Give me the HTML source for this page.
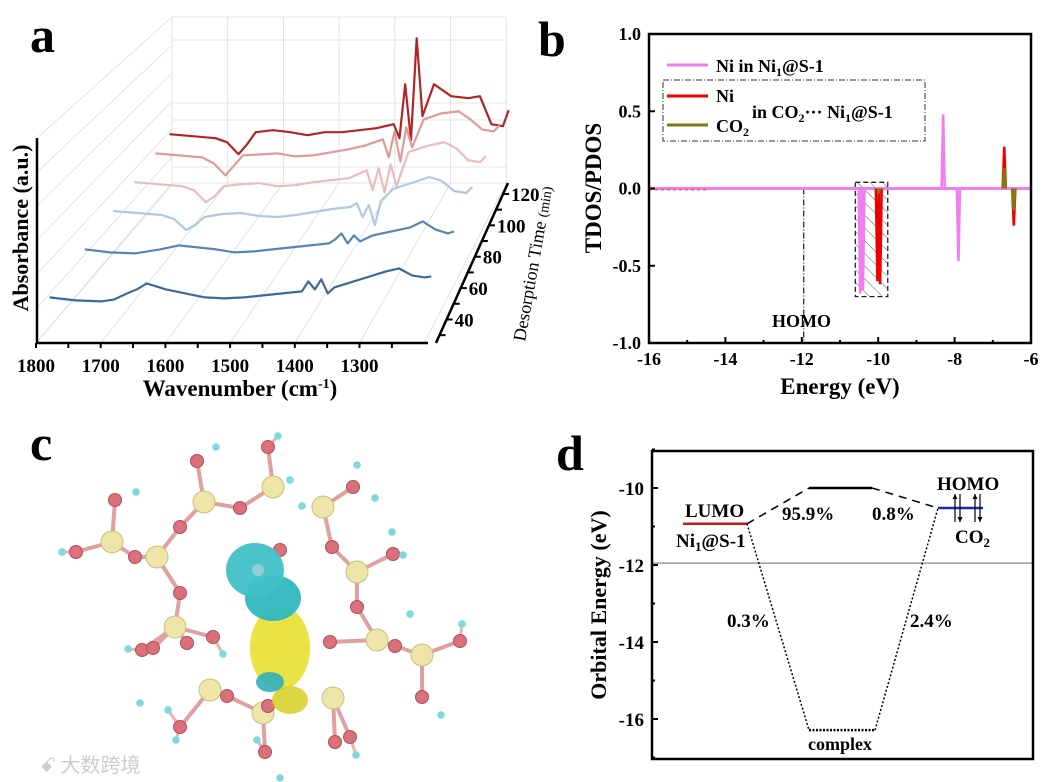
<!DOCTYPE html>
<html><head><meta charset="utf-8"><style>
body{margin:0;background:#fff}
svg{display:block;font-family:"Liberation Serif","Noto Serif CJK SC",serif;font-weight:bold}
</style></head><body>
<svg id="fig" width="1044" height="782" viewBox="0 0 1044 782" xmlns="http://www.w3.org/2000/svg">
<defs>
<pattern id="hatch" width="9" height="9" patternUnits="userSpaceOnUse" patternTransform="rotate(-45)"><line x1="0" y1="0" x2="0" y2="9" stroke="#333" stroke-width="0.8"/></pattern>
</defs>
<g id="pa">
<text x="30" y="52" font-size="50">a</text>
<g id="agrid" stroke="#ddd" stroke-width="0.8" fill="none"></g>
<g id="aseries"></g>
<g id="aaxes"></g>
<text transform="translate(28,228) rotate(-90)" text-anchor="middle" font-size="22">Absorbance (a.u.)</text>
<text x="240" y="396" text-anchor="middle" font-size="23">Wavenumber (cm<tspan dy="-8" font-size="14">-1</tspan><tspan dy="8">)</tspan></text>
<text transform="translate(525,342) rotate(-80)" font-size="18" font-weight="normal">Desorption Time <tspan font-size="14">(min)</tspan></text>
</g>
<g id="pb">
<text x="538" y="56" font-size="50">b</text>
<g id="bplot"></g>
<text transform="translate(601,188) rotate(-90)" text-anchor="middle" font-size="23">TDOS/PDOS</text>
<text x="840" y="394" text-anchor="middle" font-size="23">Energy (eV)</text>
<g>
<line x1="667" y1="65" x2="708" y2="65" stroke="#f07ef0" stroke-width="3"/>
<text x="716" y="72" font-size="18">Ni in Ni<tspan font-size="12" dy="4">1</tspan><tspan dy="-4">@S-1</tspan></text>
<rect x="663" y="80" width="262" height="61" fill="none" stroke="#333" stroke-dasharray="6,2,1,2"/>
<line x1="667" y1="96" x2="708" y2="96" stroke="#e00" stroke-width="3"/>
<text x="716" y="102" font-size="18">Ni</text>
<line x1="667" y1="125" x2="708" y2="125" stroke="#807a10" stroke-width="3"/>
<text x="716" y="132" font-size="18">CO<tspan font-size="12" dy="4">2</tspan></text>
<text x="752" y="118" font-size="18">in CO<tspan font-size="12" dy="4">2</tspan><tspan dy="-4">··· Ni</tspan><tspan font-size="12" dy="4">1</tspan><tspan dy="-4">@S-1</tspan></text>
</g>
<text x="772" y="327" font-size="18">HOMO</text>
</g>
<g id="pc">
<text x="30" y="460" font-size="50">c</text>
<g id="mol"></g>
<text x="40" y="772" font-size="20" fill="#ccc" font-weight="normal" font-family="'Noto Sans CJK SC',sans-serif">ꗃ 大数跨境</text>
</g>
<g id="pd">
<text x="556" y="470" font-size="50">d</text>
<g id="dplot"></g>
<text transform="translate(606,605) rotate(-90)" text-anchor="middle" font-size="22">Orbital Energy (eV)</text>
</g>
</svg>
<script>
// ---------- Panel a data ----------
const waveNumbers=[1790,1750,1710,1690,1670,1655,1640,1610,1580,1550,1520,1490,1460,1430,1400,1390,1380,1370,1360,1350,1330,1300,1270,1250,1230,1210,1200];
const desorptionTimes=[30,55,75,90,105,115];
const spectrum30=[0,-3,-4,-2,4,8,14,8,4,0,-1,0,2,4,6,16,8,18,4,10,14,20,26,29,22,20,21];
const spectrum55=[0,-3,-4,-2,0,2,4,2,0,-3,-2,0,2,4,6,10,16,6,14,8,14,18,22,28,20,16,18];
const spectrum75=[0,-2,-4,-8,-19,-14,-6,-3,-2,-5,-6,-4,-1,2,4,8,-6,6,-14,10,22,28,34,30,20,18,24];
const spectrum90=[0,-2,-4,-8,-20,-14,-4,-2,-1,-4,-3,0,2,4,12,-8,14,-10,18,-4,30,36,40,34,22,20,26];
const spectrum105=[0,-2,-4,-10,-22,-12,-2,-1,0,-3,-2,1,4,8,14,-4,22,-8,26,6,34,40,42,34,24,22,28];
const spectrum115=[0,-2,-4,-8,-20,-10,2,4,2,-1,2,2,4,6,10,-4,50,-6,96,18,50,38,36,38,10,8,24];
const seriesColors=["#3d6a9c","#5a85b3","#b0c8e0","#ecbcbc","#e09a9a","#b22525"];
const wnTicks=[1800,1700,1600,1500,1400,1300];
const timeTicks=[40,60,80,100,120];
// ---------- Panel b data ----------
const pinkPeakE=[-10.47,-10.4,-8.3,-7.9];
const pinkPeakV=[-0.68,-0.66,0.48,-0.47];
const redPeakE=[-10.02,-9.95,-6.7,-6.45];
const redPeakV=[-0.6,-0.62,0.27,-0.24];
const olivePeakE=[-9.98,-6.7,-6.45];
const olivePeakV=[-0.02,0.13,-0.14];
const bXTicks=[-16,-14,-12,-10,-8,-6];
const bYTicks=[1.0,0.5,0.0,-0.5,-1.0];
const homoEnergy=-11.95;
// ---------- Panel d data ----------
const lumoLevel=-10.93;
const complexUpper=-10.0;
const complexLower=-16.29;
const co2Homo=-10.52;
const fermiLine=-11.95;
const dYTicks=[-10,-12,-14,-16];

const NS="http://www.w3.org/2000/svg";
function mk(tag,attrs,parent){const e=document.createElementNS(NS,tag);for(const k in attrs)e.setAttribute(k,attrs[k]);parent.appendChild(e);return e;}

// ---------- Panel a ----------
const aX0=36,aY0=343;
function depthDx(t){return (t-25)*1.42;}
function depthDy(t){return -(t-25)*1.92;}
function scaleAt(t){return 0.647-(t-30)*0.00085;}
function aProj(w,t,v){return [aX0+depthDx(t)+(1800-w)*scaleAt(t), aY0-36+depthDy(t)-v];}
const grid=document.getElementById('agrid');
for(let i=0;i<=6;i++){const x=172+i*55.7;const l=mk('line',{x1:x,y1:17,x2:x,y2:183},grid);}
[17,40,103,120,167,183].forEach(y=>{const l=mk('line',{x1:172,y1:y,x2:506,y2:y},grid);});
for(let i=0;i<7;i++){const y=17+i*28;const l=mk('line',{x1:37,y1:138+i*34,x2:172,y2:y},grid);}
for(let i=0;i<7;i++){const l=mk('line',{x1:aX0+i*64.7,y1:aY0,x2:172+i*55.7,y2:183},grid);}
const sData=[spectrum30,spectrum55,spectrum75,spectrum90,spectrum105,spectrum115];
const sg=document.getElementById('aseries');
for(let s=sData.length-1;s>=0;s--){
  const t=desorptionTimes[s];
  const pts=waveNumbers.map((w,i)=>aProj(w,t,sData[s][i]).join(',')).join(' ');
  const p=mk('polyline',{points:pts,fill:'none',stroke:seriesColors[s],'stroke-width':2.2,'stroke-linejoin':'round'},sg);
  
  
}
const ax=document.getElementById('aaxes');
mk('line',{x1:37,y1:138,x2:37,y2:aY0,stroke:'#000','stroke-width':2.5},ax);
mk('line',{x1:36,y1:aY0,x2:428,y2:aY0,stroke:'#000','stroke-width':2.5},ax);
mk('line',{x1:436,y1:aY0,x2:508,y2:183,stroke:'#000','stroke-width':2.5},ax);
for(let w=1800;w>=1250;w-=50){const x=aX0+(1800-w)*0.647;mk('line',{x1:x,y1:aY0,x2:x,y2:aY0+5,stroke:'#000','stroke-width':2},ax);}
wnTicks.forEach(w=>{const x=aX0+(1800-w)*0.647;const t=mk('text',{x:x,y:372,'text-anchor':'middle','font-size':19},ax);t.textContent=w;});
function depthPt(t){const f=(t-25)/(127-25);return [436+f*72,aY0-f*160];}
for(let t=30;t<=120;t+=10){const p=depthPt(t);mk('line',{x1:p[0],y1:p[1],x2:p[0]+6,y2:p[1],stroke:'#000','stroke-width':2},ax);}
timeTicks.forEach(t=>{const p=depthPt(t);const e=mk('text',{x:p[0]+8,y:p[1]+7,'font-size':19},ax);e.textContent=t;});

// ---------- Panel b ----------
const bL=649,bR=1031,bT=34,bB=343;
const bx=e=>bL+(e+16)/10*(bR-bL);
const by=v=>bT+(1-v)/2*(bB-bT);
const bp=document.getElementById('bplot');
const hb=mk('rect',{x:bx(-10.6),y:by(0.04),width:bx(-9.75)-bx(-10.6),height:by(-0.7)-by(0.04),fill:'url(#hatch)',stroke:'#222','stroke-dasharray':'5,3','stroke-width':1.3},bp);

const hl=mk('line',{x1:bx(homoEnergy),y1:by(0),x2:bx(homoEnergy),y2:bB,stroke:'#222','stroke-dasharray':'6,2,1,2','stroke-width':1.2},bp);

function peaks(E,V,col,w,name){E.forEach((e,i)=>{const p=mk('polyline',{points:bx(e-w)+','+by(0)+' '+bx(e)+','+by(V[i])+' '+bx(e+w)+','+by(0),fill:'none',stroke:col,'stroke-width':2.6},bp);});}
const base=mk('line',{x1:bL,y1:by(0),x2:bR,y2:by(0),stroke:'#f07ef0','stroke-width':3},bp);

mk('line',{x1:bL,y1:by(0)+1,x2:bx(-14.5),y2:by(0)+1,stroke:'#e66','stroke-width':2,'stroke-dasharray':'3,3'},bp);
peaks(pinkPeakE,pinkPeakV,'#f07ef0',0.04,'pink-peak');
peaks(redPeakE,redPeakV,'#e00',0.04,'red-peak');
peaks(olivePeakE,olivePeakV,'#807a10',0.035,'olive-peak');
mk('rect',{x:bL,y:bT,width:bR-bL,height:bB-bT,fill:'none',stroke:'#000','stroke-width':2.5},bp);
for(let e=-16;e<=-6;e+=1){const x=bx(e);mk('line',{x1:x,y1:bB,x2:x,y2:bB-(e%2===0?6:3),stroke:'#000','stroke-width':2},bp);}
bXTicks.forEach(e=>{const t=mk('text',{x:bx(e),y:bB+22,'text-anchor':'middle','font-size':18},bp);t.textContent=e;});
bYTicks.forEach(v=>{mk('line',{x1:bL,y1:by(v),x2:bL+6,y2:by(v),stroke:'#000','stroke-width':2},bp);const t=mk('text',{x:bL-8,y:by(v)+6,'text-anchor':'end','font-size':18},bp);t.textContent=v.toFixed(1);});

// ---------- Panel c (molecule) ----------
const mol=document.getElementById('mol');
const si=[[204,502],[273,487],[323,507],[112,542],[157,557],[357,572],[175,627],[377,640],[422,655],[210,690],[333,698],[263,713]];
const ox=[[197,461],[268,447],[240,508],[353,487],[115,500],[76,552],[135,557],[180,527],[180,593],[142,650],[332,547],[393,554],[357,607],[330,642],[395,646],[460,641],[422,697],[350,737],[227,696],[180,727],[268,706],[335,742],[265,752],[153,648],[187,643],[213,637],[280,550]];
const hy=[[216,447],[278,436],[136,492],[62,552],[357,465],[375,498],[392,532],[403,555],[462,624],[410,614],[441,715],[356,755],[280,778],[168,710],[176,740],[128,649],[140,703],[290,480],[302,506],[257,740],[223,654]];
si.forEach(a=>{ox.forEach(b=>{const d=Math.hypot(a[0]-b[0],a[1]-b[1]);if(d<48){const l=mk('line',{x1:a[0],y1:a[1],x2:b[0],y2:b[1],stroke:'#e0a0a0','stroke-width':4},mol);}});});
ox.forEach(a=>{hy.forEach(b=>{if(Math.hypot(a[0]-b[0],a[1]-b[1])<22){const l=mk('line',{x1:a[0],y1:a[1],x2:b[0],y2:b[1],stroke:'#f0b0b0','stroke-width':3},mol);}});});
si.forEach(a=>{const c=mk('circle',{cx:a[0],cy:a[1],r:11,fill:'#eee5a8',stroke:'#c8c080'},mol);});
ox.forEach(a=>{const c=mk('circle',{cx:a[0],cy:a[1],r:6.5,fill:'#d9707a',stroke:'#b05060'},mol);});
hy.forEach(a=>{const c=mk('circle',{cx:a[0],cy:a[1],r:3.8,fill:'#7ed8dc'},mol);});
const y1=mk('ellipse',{cx:280,cy:648,rx:30,ry:42,fill:'#e8e030',opacity:0.9},mol);
const c2=mk('ellipse',{cx:273,cy:598,rx:28,ry:23,fill:'#30b8c0',opacity:0.95},mol);
const c1=mk('ellipse',{cx:255,cy:570,rx:29,ry:27,fill:'#40c0c8',opacity:0.95},mol);
mk('circle',{cx:258,cy:570,r:6,fill:'#8fd0d8'},mol);
mk('ellipse',{cx:290,cy:700,rx:18,ry:14,fill:'#d8d030',opacity:0.9},mol);
mk('ellipse',{cx:270,cy:682,rx:14,ry:10,fill:'#30b0b8',opacity:0.9},mol);

// ---------- Panel d ----------
const dL=652,dR=1033,dT=451,dB=759;
const dy=v=>488+(-10-v)*38.5;
const dp=document.getElementById('dplot');
const fl=mk('line',{x1:dL,y1:dy(fermiLine),x2:dR,y2:dy(fermiLine),stroke:'#999','stroke-width':1.5},dp);

function lvl(x1,x2,v,col,name,dash){const l=mk('line',{x1:x1,y1:dy(v),x2:x2,y2:dy(v),stroke:col,'stroke-width':2.5},dp);if(dash)l.setAttribute('stroke-dasharray',dash);}
lvl(683,747,lumoLevel,'#c81818','lumo-level');
lvl(809,872,complexUpper,'#000','complex-upper-level');
lvl(938,983,co2Homo,'#1828c8','co2-homo-level');
lvl(809,875,complexLower,'#000','complex-lower-level','2,1.5');
function conn(x1,v1,x2,v2,dash,name){const l=mk('line',{x1:x1,y1:dy(v1),x2:x2,y2:dy(v2),stroke:'#000','stroke-width':1.5,'stroke-dasharray':dash},dp);}
conn(747,lumoLevel,809,complexUpper,'8,6','dashed-connector');
conn(872,complexUpper,938,co2Homo,'8,6','dashed-connector');
conn(747,lumoLevel,809,complexLower,'2,2','dotted-connector');
conn(875,complexLower,938,co2Homo,'2,2','dotted-connector');
mk('rect',{x:dL,y:dT,width:dR-dL,height:dB-dT,fill:'none',stroke:'#000','stroke-width':2.5},dp);
for(let v=-9;v>=-17;v--){mk('line',{x1:dL,y1:dy(v),x2:dL+(v%2===0?6:3),y2:dy(v),stroke:'#000','stroke-width':2},dp);}
dYTicks.forEach(v=>{const t=mk('text',{x:dL-8,y:dy(v)+7,'text-anchor':'end','font-size':19},dp);t.textContent=v;});
[[955,1],[960,-1],[975,1],[980,-1]].forEach(a=>{const yc=dy(co2Homo);const y1=yc-14,y2=yc+14;const l=mk('line',{x1:a[0],y1:y1,x2:a[0],y2:y2,stroke:'#000','stroke-width':1.2},dp);const ty=a[1]>0?y1:y2;mk('polygon',{points:`${a[0]-2.5},${ty+a[1]*5} ${a[0]+2.5},${ty+a[1]*5} ${a[0]},${ty}`,fill:'#000'},dp);});
const labels=[["LUMO",685,517,19],["95.9%",782,520,19],["0.8%",872,520,19],["HOMO",937,490,19],["0.3%",727,627,19],["2.4%",910,627,19],["complex",808,750,18]];
labels.forEach(l=>{const t=mk('text',{x:l[1],y:l[2],'font-size':l[3]},dp);t.textContent=l[0];});
const ni=mk('text',{x:676,y:547,'font-size':19},dp);ni.innerHTML='Ni<tspan font-size="13" dy="4">1</tspan><tspan dy="-4">@S-1</tspan>';
const co=mk('text',{x:955,y:543,'font-size':19},dp);co.innerHTML='CO<tspan font-size="13" dy="4">2</tspan>';
</script>
</body></html>
